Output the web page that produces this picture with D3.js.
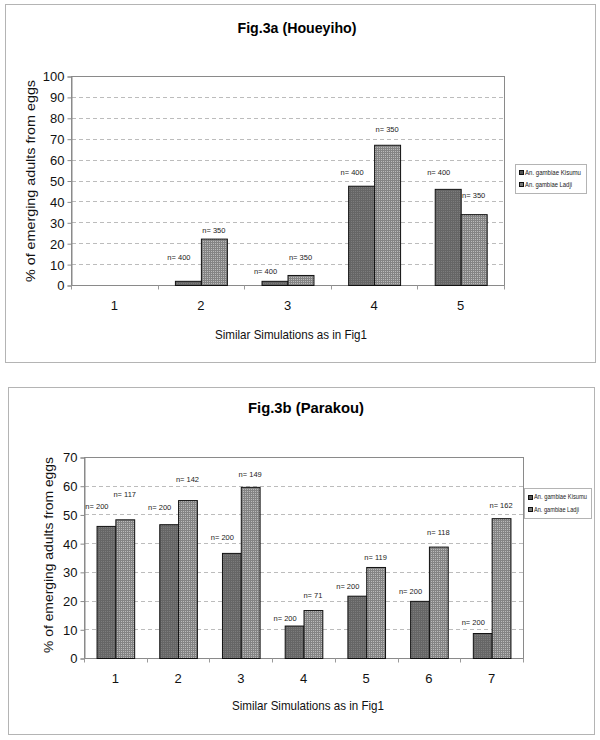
<!DOCTYPE html>
<html>
<head>
<meta charset="utf-8">
<script src="https://cdn.jsdelivr.net/npm/d3@7"></script>
<style>
  html, body { margin: 0; padding: 0; background: #fff; }
  svg { display: block; }
</style>
</head>
<body>
<svg id="chart" width="600" height="740"></svg>
<script>
// ---------- DATA ----------
const seriesNames = ["An. gambiae Kisumu", "An. gambiae Ladji"];

// Fig.3a (Houeyiho)
const catsA = ["1", "2", "3", "4", "5"];
const kisumuA = [0, 2, 2, 47.5, 46];
const ladjiA = [0, 22.2, 4.8, 67.1, 33.9];
const nKisumuA = ["", "n= 400", "n= 400", "n= 400", "n= 400"];
const nLadjiA = ["", "n= 350", "n= 350", "n= 350", "n= 350"];
const nKisumuLevelA = [0, 13.4, 6.7, 54, 54];
const nLadjiLevelA = [0, 25.9, 13.4, 74.3, 43];
const yTicksA = [0, 10, 20, 30, 40, 50, 60, 70, 80, 90, 100];

// Fig.3b (Parakou)
const catsB = ["1", "2", "3", "4", "5", "6", "7"];
const kisumuB = [46, 46.6, 36.6, 11.3, 21.7, 19.9, 8.7];
const ladjiB = [48.3, 55, 59.6, 16.7, 31.7, 38.8, 48.7];
const nKisumuB = ["n= 200", "n= 200", "n= 200", "n= 200", "n= 200", "n= 200", "n= 200"];
const nLadjiB = ["n= 117", "n= 142", "n= 149", "n= 71", "n= 119", "n= 118", "n= 162"];
const nKisumuLevelB = [52.9, 52.6, 42.1, 13.9, 25.1, 23.3, 12.3];
const nLadjiLevelB = [57.1, 62.3, 64.1, 21.7, 35.1, 43.9, 53.3];
const yTicksB = [0, 10, 20, 30, 40, 50, 60, 70];

// ---------- DRAWING ----------
const svg = d3.select("#chart");
const defs = svg.append("defs");

function addPattern(id, base, dot, grid) {
  const p = defs.append("pattern").attr("id", id)
    .attr("patternUnits", "userSpaceOnUse").attr("width", 2).attr("height", 2);
  p.append("rect").attr("width", 2).attr("height", 2).attr("fill", base);
  if (grid) {
    p.append("rect").attr("x", 0).attr("y", 0).attr("width", 2).attr("height", 1).attr("fill", grid);
    p.append("rect").attr("x", 0).attr("y", 0).attr("width", 1).attr("height", 2).attr("fill", grid);
  }
  p.append("rect").attr("x", 1).attr("y", 1).attr("width", 1).attr("height", 1).attr("fill", dot);
}
addPattern("patK", "#666", "#7c7c7c", null);
addPattern("patL", "#a6a6a6", "#bababa", "#848484");
const fills = ["url(#patK)", "url(#patL)"];
const legendFills = ["#555", "#777"];

const narrow = "'Liberation Sans Narrow', 'Arial Narrow', 'Liberation Sans', Arial, sans-serif";
const sans = "'Liberation Sans', Arial, sans-serif";

function panel(cfg) {
  const g = svg.append("g");
  // outer frame
  g.append("rect")
    .attr("x", cfg.frame[0] + 0.5).attr("y", cfg.frame[1] + 0.5)
    .attr("width", cfg.frame[2] - cfg.frame[0]).attr("height", cfg.frame[3] - cfg.frame[1])
    .attr("fill", "#fff").attr("stroke", "#b4b4b4").attr("stroke-width", 1);

  const [x0, y0, x1, y1] = cfg.plot;
  const x = d3.scaleBand().domain(cfg.cats).range([x0, x1]).paddingInner(0).paddingOuter(0);
  const xs = d3.scaleBand().domain([0, 1])
    .range([x.bandwidth() * 0.2, x.bandwidth() * 0.8]).paddingInner(0).paddingOuter(0);
  const y = d3.scaleLinear().domain([0, cfg.yMax]).range([y1, y0]);

  // plot area
  g.append("rect").attr("x", x0 + 0.5).attr("y", y0 + 0.5)
    .attr("width", x1 - x0).attr("height", y1 - y0)
    .attr("fill", "#fff").attr("stroke", "#8a8a8a").attr("stroke-width", 1);

  // gridlines
  g.append("g").selectAll("line").data(cfg.ticks.filter(t => t > 0 && t < cfg.yMax)).join("line")
    .attr("x1", x0 + 1).attr("x2", x1)
    .attr("y1", d => Math.round(y(d)) + 0.5).attr("y2", d => Math.round(y(d)) + 0.5)
    .attr("stroke", "#bcbcbc").attr("stroke-dasharray", "4,3");

  // y axis
  const yAxis = g.append("g").attr("transform", `translate(${x0 + 0.5},0.5)`)
    .call(d3.axisLeft(y).tickValues(cfg.ticks).tickSize(4).tickPadding(4).tickFormat(d3.format("d")));
  yAxis.select(".domain").attr("stroke", "#8a8a8a");
  yAxis.selectAll(".tick line").attr("stroke", "#8a8a8a");
  yAxis.selectAll(".tick text").attr("font-family", sans).attr("font-size", 13).attr("fill", "#111")
    .attr("x", -7).attr("dy", "0.34em");

  // x axis with ticks at category boundaries
  const xb = g.append("g").attr("transform", `translate(0,${y1 + 0.5})`);
  xb.append("line").attr("x1", x0).attr("x2", x1 + 1).attr("stroke", "#8a8a8a");
  xb.selectAll("line.b").data(d3.range(cfg.cats.length + 1)).join("line").attr("class", "b")
    .attr("x1", i => Math.round(x0 + i * x.bandwidth()) + 0.5)
    .attr("x2", i => Math.round(x0 + i * x.bandwidth()) + 0.5)
    .attr("y1", 0).attr("y2", 4).attr("stroke", "#9a9a9a");
  xb.selectAll("text").data(cfg.cats).join("text")
    .attr("x", d => x(d) + x.bandwidth() / 2)
    .attr("y", cfg.xLabelY - y1)
    .attr("dy", "0.35em")
    .attr("text-anchor", "middle")
    .attr("font-family", sans).attr("font-size", 13).attr("fill", "#111")
    .text(d => d);

  // bars
  const series = [cfg.k, cfg.l];
  series.forEach((vals, s) => {
    g.append("g").selectAll("rect").data(cfg.cats.filter((d, i) => vals[i] > 0)).join("rect")
      .attr("x", d => x(d) + xs(s) + 0.5)
      .attr("y", d => y(vals[cfg.cats.indexOf(d)]) + 0.5)
      .attr("width", xs.bandwidth())
      .attr("height", d => y1 - y(vals[cfg.cats.indexOf(d)]))
      .attr("fill", fills[s]).attr("stroke", "#111").attr("stroke-width", 1);
  });

  // n labels
  const labs = [[cfg.nk, cfg.nkl, -9], [cfg.nl, cfg.nll, 0]];
  labs.forEach(([texts, levels, dx], s) => {
    g.append("g").selectAll("text").data(cfg.cats.filter((d, i) => texts[i] !== "")).join("text")
      .attr("x", d => x(d) + xs(s) + xs.bandwidth() / 2 + dx)
      .attr("y", d => y(levels[cfg.cats.indexOf(d)]))
      .attr("dy", "0.35em")
      .attr("text-anchor", "middle")
      .attr("font-family", sans).attr("font-size", 7.5).attr("fill", "#222")
      .text(d => texts[cfg.cats.indexOf(d)]);
  });

  // title
  g.append("text").attr("x", cfg.titleX).attr("y", cfg.titleY).attr("dy", "0.35em")
    .attr("text-anchor", "middle").attr("font-family", narrow).attr("font-weight", "bold")
    .attr("font-size", 15).attr("fill", "#000")
    .attr("textLength", cfg.titleW).attr("lengthAdjust", "spacingAndGlyphs")
    .text(cfg.title);

  // x title
  g.append("text").attr("x", cfg.xTitleX).attr("y", cfg.xTitleY).attr("dy", "0.35em")
    .attr("text-anchor", "middle").attr("font-family", sans).attr("font-size", 13).attr("fill", "#111")
    .attr("textLength", 152).attr("lengthAdjust", "spacingAndGlyphs")
    .text("Similar Simulations as in Fig1");

  // y title
  g.append("text")
    .attr("transform", `translate(${cfg.yTitleX},${cfg.yTitleY}) rotate(-90)`)
    .attr("dy", "0.35em")
    .attr("text-anchor", "middle").attr("font-family", sans).attr("font-size", 13).attr("fill", "#111")
    .attr("textLength", cfg.yTitleW).attr("lengthAdjust", "spacingAndGlyphs")
    .text("% of emerging adults from eggs");

  // legend
  const [lx0, ly0, lx1, ly1] = cfg.legend;
  const lg = g.append("g");
  lg.append("rect").attr("x", lx0 + 0.5).attr("y", ly0 + 0.5).attr("width", lx1 - lx0).attr("height", ly1 - ly0)
    .attr("fill", "#fff").attr("stroke", "#b4b4b4");
  seriesNames.forEach((name, s) => {
    const cy = ly0 + (ly1 - ly0) * (s === 0 ? 0.3 : 0.72);
    lg.append("rect").attr("x", lx0 + 4.5).attr("y", Math.round(cy - 2.5) + 0.5).attr("width", 4).attr("height", 4)
      .attr("fill", legendFills[s]).attr("stroke", "#111").attr("stroke-width", 1);
    lg.append("text").attr("x", lx0 + 10).attr("y", cy).attr("dy", "0.35em")
      .attr("font-family", narrow).attr("font-size", 7).attr("fill", "#222")
      .attr("textLength", cfg.legendW[s]).attr("lengthAdjust", "spacingAndGlyphs")
      .text(name);
  });
}

panel({
  frame: [5, 4, 595, 362],
  plot: [71, 76, 504, 285],
  cats: catsA, k: kisumuA, l: ladjiA,
  nk: nKisumuA, nl: nLadjiA, nkl: nKisumuLevelA, nll: nLadjiLevelA,
  yMax: 100, ticks: yTicksA,
  xLabelY: 305,
  title: "Fig.3a (Houeyiho)", titleX: 297, titleY: 28, titleW: 119,
  xTitleX: 291, xTitleY: 334,
  yTitleX: 30, yTitleY: 181, yTitleW: 202,
  legend: [515, 164, 586, 193], legendW: [56, 47]
});

panel({
  frame: [8, 387, 594, 734],
  plot: [84, 457, 523, 658],
  cats: catsB, k: kisumuB, l: ladjiB,
  nk: nKisumuB, nl: nLadjiB, nkl: nKisumuLevelB, nll: nLadjiLevelB,
  yMax: 70, ticks: yTicksB,
  xLabelY: 678,
  title: "Fig.3b (Parakou)", titleX: 306, titleY: 408, titleW: 116,
  xTitleX: 308, xTitleY: 705,
  yTitleX: 48, yTitleY: 555, yTitleW: 196,
  legend: [524, 488, 591, 518], legendW: [53, 45]
});
</script>
</body>
</html>
